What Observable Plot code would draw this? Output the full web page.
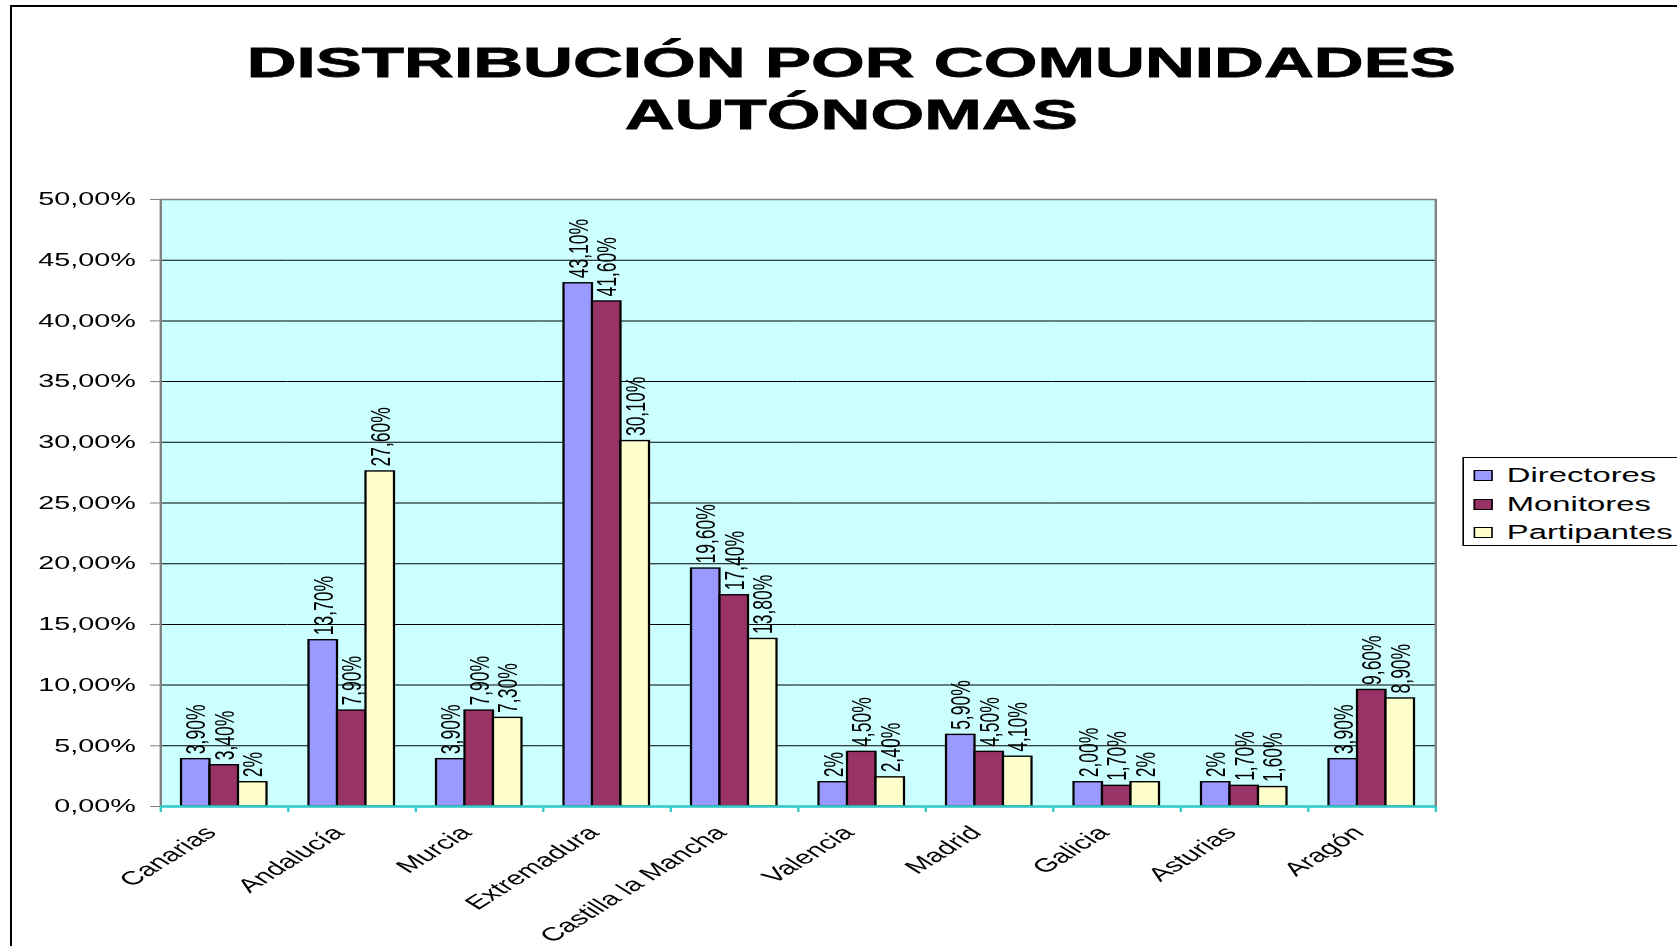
<!DOCTYPE html>
<html>
<head>
<meta charset="utf-8">
<script src="https://cdn.jsdelivr.net/npm/d3@7"></script>
<script src="https://cdn.jsdelivr.net/npm/@observablehq/plot@0.6"></script>
<style>
  html, body { margin: 0; padding: 0; background: #fff; overflow: hidden; width: 1677px; height: 946px; }
  #frame { position: absolute; left: 10px; top: 5px; width: 1720px; height: 1000px; border-left: 2.5px solid #000; border-top: 2px solid #000; box-sizing: border-box; pointer-events: none; }
  #stage { position: absolute; left: 0; top: 0; width: 1048.125px; height: 946px; transform: scaleX(1.6); transform-origin: 0 0; font-family: "Liberation Sans", Arial, sans-serif; }
  #title { height: 150px; box-sizing: border-box; padding-top: 36px; padding-left: 16px; text-align: center; font-weight: bold; font-size: 43.2px; line-height: 52px; color: #000; -webkit-text-stroke: 0.8px #000; }
  #legend { position: absolute; left: 913.75px; top: 457px; width: 160px; height: 89px; box-sizing: border-box; border: 1px solid #000; background: #fff; font-size: 20.5px; }
  .item { position: absolute; left: 0; height: 24px; line-height: 24px; white-space: nowrap; }
  .sw { position: absolute; left: 6px; top: 7px; width: 10px; height: 9px; border: 1px solid #000; }
  .lab { position: absolute; left: 27px; top: 0; }
  svg { display: block; }
</style>
</head>
<body>
<div id="frame"></div>
<div id="stage">
  <div id="title">DISTRIBUCIÓN POR COMUNIDADES<br>AUTÓNOMAS</div>
  <div id="chart"></div>
  <div id="legend"></div>
</div>
<script>
const categories = ["Canarias", "Andalucía", "Murcia", "Extremadura", "Castilla la Mancha", "Valencia", "Madrid", "Galicia", "Asturias", "Aragón"];
const series = ["Directores", "Monitores", "Partipantes"];
const colors = ["#9999FF", "#993366", "#FFFFCC"];

const directores = [3.9, 13.7, 3.9, 43.1, 19.6, 2, 5.9, 2.0, 2, 3.9];
const monitores = [3.4, 7.9, 7.9, 41.6, 17.4, 4.5, 4.5, 1.7, 1.7, 9.6];
const partipantes = [2, 27.6, 7.3, 30.1, 13.8, 2.4, 4.1, 2, 1.6, 8.9];

const directoresLabels = ["3,90%", "13,70%", "3,90%", "43,10%", "19,60%", "2%", "5,90%", "2,00%", "2%", "3,90%"];
const monitoresLabels = ["3,40%", "7,90%", "7,90%", "41,60%", "17,40%", "4,50%", "4,50%", "1,70%", "1,70%", "9,60%"];
const partipantesLabels = ["2%", "27,60%", "7,30%", "30,10%", "13,80%", "2,40%", "4,10%", "2%", "1,60%", "8,90%"];

const yTicks = [0, 5, 10, 15, 20, 25, 30, 35, 40, 45, 50];

const seriesValues = [directores, monitores, partipantes];
const seriesLabels = [directoresLabels, monitoresLabels, partipantesLabels];

const rows = [];
categories.forEach((c, i) => {
  series.forEach((s, j) => rows.push({cat: c, series: s, value: seriesValues[j][i], label: seriesLabels[j][i]}));
});

const W = 1048.125, H = 796;
const ML = 100, MR = 151.25, MT = 49, MB = 140;
const bw = (W - ML - MR) / categories.length;
const fmt = d => d3.format(".2f")(d).replace(".", ",") + "%";
const font = '"Liberation Sans", Arial, sans-serif';
const turq = "#33CCCC";

const chart = Plot.plot({
  width: W, height: H,
  marginTop: MT, marginBottom: MB, marginLeft: ML, marginRight: MR,
  style: {fontFamily: font, background: "transparent", overflow: "visible", color: "#000"},
  fx: {domain: categories, padding: 0, round: false, label: null},
  x: {domain: series, paddingInner: 0, paddingOuter: 0.737, round: false, axis: null},
  y: {domain: [0, 50], label: null},
  color: {domain: series, range: colors},
  marks: [
    Plot.frame({fill: "#CCFFFF", facet: "super"}),
    Plot.ruleY(yTicks, {stroke: "#000", strokeWidth: 1}),
    Plot.barY(rows, {fx: "cat", x: "series", y: "value", fill: "series", stroke: "#000", strokeWidth: 1.4}),
    Plot.text(rows, {fx: "cat", x: "series", y: "value", text: "label", rotate: -90, textAnchor: "start", dy: -5, fontSize: 17.5, fill: "#000"}),
    Plot.frame({stroke: "#808080", strokeWidth: 1.5, facet: "super"}),
    Plot.ruleY([0], {stroke: turq, strokeWidth: 2.5}),
    Plot.axisY({ticks: yTicks, tickFormat: fmt, tickSize: 6.25, tickPadding: 9.4, stroke: "#808080", fontSize: 18, label: null, anchor: "left"}),
    Plot.axisFx({anchor: "bottom", tickSize: 0, tickRotate: -45, fontSize: 19, label: null, tickPadding: 23, dx: -8.5}),
    Plot.axisFx({anchor: "bottom", tickSize: 6, tickFormat: () => "", stroke: turq, strokeWidth: 1.5, dx: -bw / 2, label: null}),
    Plot.axisFx({anchor: "bottom", ticks: [categories[categories.length - 1]], tickSize: 6, tickFormat: () => "", stroke: turq, strokeWidth: 1.5, dx: bw / 2, label: null})
  ]
});
document.getElementById("chart").appendChild(chart);

const legend = document.getElementById("legend");
series.forEach((s, i) => {
  const item = document.createElement("div");
  item.className = "item";
  item.style.top = (5 + i * 28.5) + "px";
  const sw = document.createElement("div");
  sw.className = "sw";
  sw.style.background = chart.scale("color").apply(s);
  const lab = document.createElement("span");
  lab.className = "lab";
  lab.textContent = s;
  item.appendChild(sw);
  item.appendChild(lab);
  legend.appendChild(item);
});
</script>
</body>
</html>
